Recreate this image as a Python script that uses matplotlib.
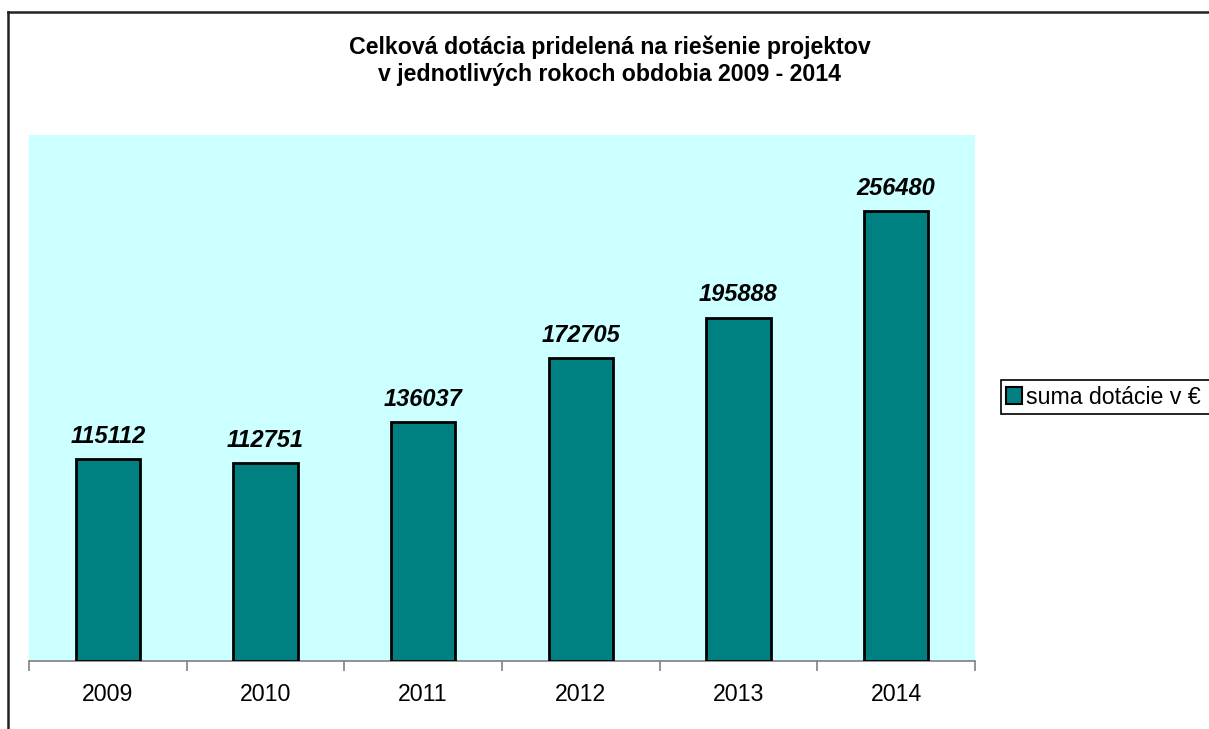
import numpy as np
import matplotlib.pyplot as plt
from matplotlib.patches import Patch, Rectangle
from matplotlib.lines import Line2D

plt.rcParams['font.family'] = ['Liberation Sans', 'DejaVu Sans']

# data
years = ["2009", "2010", "2011", "2012", "2013", "2014"]
dotacia = [115112, 112751, 136037, 172705, 195888, 256480]
series_name = "suma dotácie v €"
title = "Celková dotácia pridelená na riešenie projektov\nv jednotlivých rokoch obdobia 2009 - 2014"

W, H = 1209, 729
fig = plt.figure(figsize=(W / 100, H / 100), dpi=100)
fig.patch.set_facecolor('white')

# outer chart border (left and top visible only)
fig.add_artist(Line2D([8 / W, 8 / W], [0, 1 - 12 / H], color='#222222', lw=1.8))
fig.add_artist(Line2D([8 / W, 1], [1 - 12 / H, 1 - 12 / H], color='#222222', lw=1.8))

ax = fig.add_axes([29 / W, 1 - 661 / H, (975 - 29) / W, (661 - 135) / H])
ax.set_facecolor('#CCFFFF')

x = np.arange(len(years))
bars = ax.bar(x, dotacia, width=0.41, color='#008080', edgecolor='black', linewidth=2, zorder=3)

for xi, v in zip(x, dotacia):
    ax.annotate(str(v), (xi, v), xytext=(0, 12), textcoords='offset points',
                ha='center', va='baseline', fontsize=17, fontweight='bold',
                fontstyle='italic', zorder=4)

ax.set_xlim(-0.5, len(years) - 0.5)
ax.set_ylim(0, 300000)
ax.set_yticks([])
ax.set_xticks(x)
ax.set_xticklabels(years, fontsize=16.7)
ax.tick_params(axis='x', length=0, pad=16)
ax.set_xticks(np.arange(len(years) + 1) - 0.5, minor=True)
ax.tick_params(axis='x', which='minor', length=7, width=1.2, color='#808080')
for s in ['top', 'right', 'left']:
    ax.spines[s].set_visible(False)
ax.spines['bottom'].set_color('#808080')
ax.spines['bottom'].set_linewidth(1.2)

fig.text(610 / W, 1 - 61 / H, title, ha='center', va='center', fontsize=16.7,
         fontweight='bold', linespacing=1.2)

# legend box runs off the right edge like in the original
fig.add_artist(Rectangle((1001 / W, 1 - 414 / H), 230 / W, 34 / H, transform=fig.transFigure,
                         facecolor='white', edgecolor='black', linewidth=1.2))
leg = fig.legend(handles=[Patch(facecolor='#008080', edgecolor='black', linewidth=1.5, label=series_name)],
                 loc='upper left', bbox_to_anchor=(1001 / W, 1 - 381 / H), fontsize=16.7,
                 frameon=False, handlelength=0.7, handleheight=0.7, handletextpad=0.17,
                 borderpad=0.2, borderaxespad=0)

fig.savefig('out.png', dpi=100)
